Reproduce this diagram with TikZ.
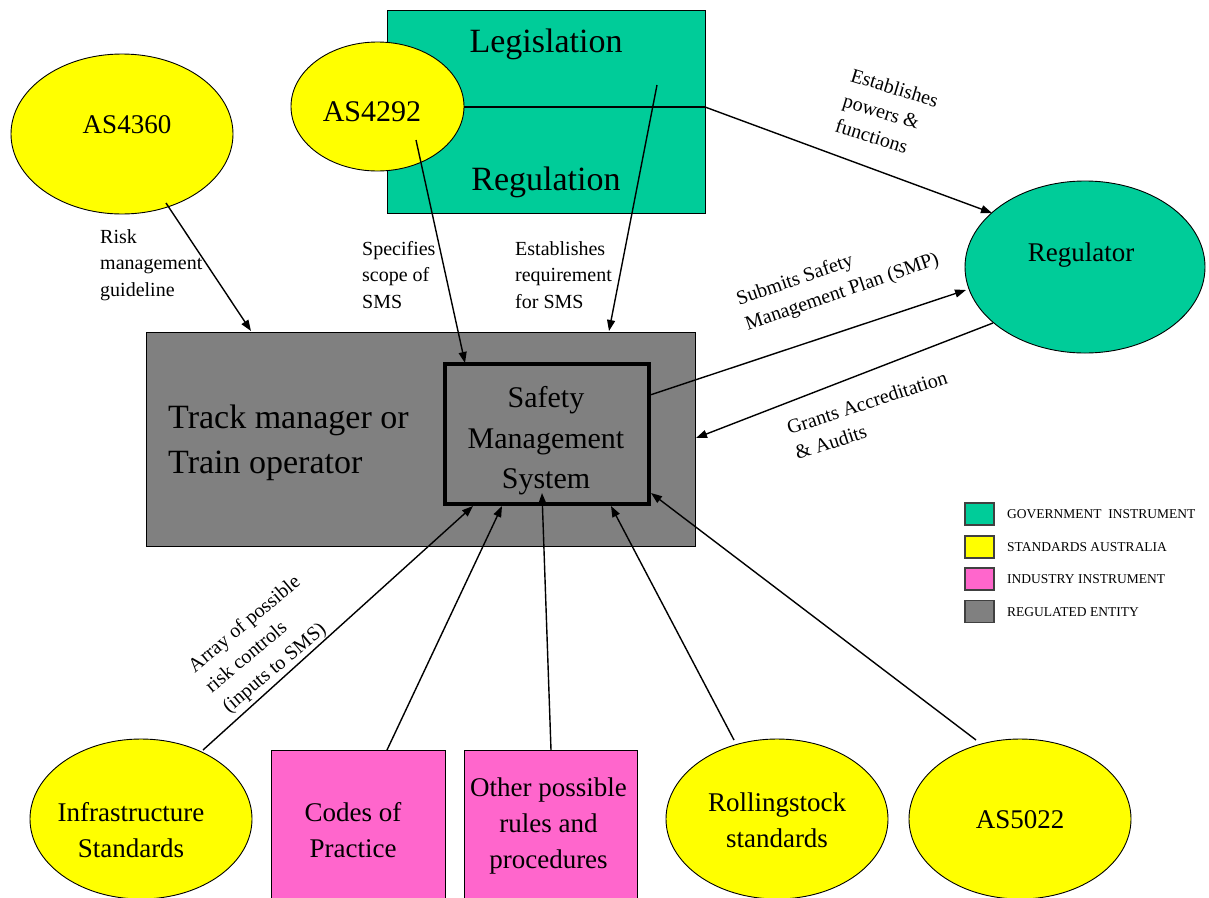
\documentclass[tikz,border=0pt]{standalone}
\usepackage{fontspec}
\setmainfont{Liberation Serif}
\usetikzlibrary{shapes.geometric,arrows.meta}
\definecolor{govgreen}{RGB}{0,204,153}
\definecolor{stdyellow}{RGB}{255,255,0}
\definecolor{indpink}{RGB}{255,102,204}
\definecolor{entgray}{RGB}{128,128,128}
\begin{document}
\begin{tikzpicture}[x=1pt,y=-1pt,
  ell/.style={ellipse,draw=black,line width=0.9pt,inner sep=0pt},
  rbox/.style={rectangle,draw=black,line width=1pt,inner sep=0pt},
  gov/.style={fill=govgreen},
  std/.style={fill=stdyellow},
  ind/.style={fill=indpink},
  ent/.style={fill=entgray},
  big/.style={font=\fontsize{27}{36}\selectfont,align=center,inner sep=0pt},
  lbl/.style={font=\fontsize{20}{26.5}\selectfont,align=left,inner sep=0pt},
  arr/.style={line width=1.4pt,-{Triangle[length=11pt,width=8pt]}},
  legbox/.style={rectangle,draw=black!75,line width=1.5pt,minimum width=29pt,minimum height=22pt,inner sep=0pt},
  legtxt/.style={font=\fontsize{13.5}{16}\selectfont,anchor=west,inner sep=0pt},
]
\useasboundingbox (0,0) rectangle (1209,897);
\fill[white] (0,0) rectangle (1209,897);

% Government instrument box
\node[rbox,gov,minimum width=318pt,minimum height=203pt] (legis) at (546,111.5) {};
\coordinate (divL) at (387,107);
\coordinate (divR) at (705,107);
\draw[line width=1.2pt] (divL) -- (divR);
\node[font=\fontsize{34}{40}\selectfont,inner sep=0pt] (tleg) at (546,44) {Legislation};
\node[font=\fontsize{34}{40}\selectfont,inner sep=0pt] (treg) at (546,182) {Regulation};

% Ellipses top
\node[ell,std,minimum width=173pt,minimum height=129pt] (as4292) at (377.5,106.5) {};
\node[font=\fontsize{30}{36}\selectfont,inner sep=0pt] (t4292) at (372,112) {AS4292};
\node[ell,std,minimum width=222pt,minimum height=160pt] (as4360) at (122,134) {};
\node[big] (t4360) at (127,125) {AS4360};
\node[ell,gov,minimum width=240pt,minimum height=172pt] (reg) at (1085,267) {};
\node[big] (treg2) at (1081,255) {Regulator};

% Regulated entity
\node[rbox,ent,minimum width=549pt,minimum height=214pt] (track) at (420.5,439) {};
\node[font=\fontsize{34}{45}\selectfont,align=left,inner sep=0pt,anchor=west] (ttrack) at (168,443) {Track manager or\\Train operator};
\node[rectangle,draw=black,line width=3.3pt,ent,minimum width=204pt,minimum height=140pt,inner sep=0pt] (sms) at (547,434) {};
\node[font=\fontsize{30}{40.5}\selectfont,align=center,inner sep=0pt] (tsms) at (546,441) {Safety\\Management\\System};

% Bottom row
\node[ell,std,minimum width=222pt,minimum height=160pt] (infra) at (141,819) {};
\node[big] (tinfra) at (131,830) {Infrastructure\\Standards};
\node[rbox,ind,minimum width=174pt,minimum height=155pt] (codes) at (358,827.5) {};
\node[big] (tcodes) at (353,830) {Codes of\\Practice};
\node[rbox,ind,minimum width=173pt,minimum height=155pt] (other) at (550.5,827.5) {};
\node[big] (tother) at (548.5,826) {Other possible\\rules and\\procedures};
\node[ell,std,minimum width=222pt,minimum height=160pt] (roll) at (777,819) {};
\node[big] (troll) at (777,820) {Rollingstock\\standards};
\node[ell,std,minimum width=222pt,minimum height=160pt] (as5022) at (1020,819) {};
\node[big] (t5022) at (1020,820) {AS5022};

% Legend
\node[legbox,gov] (lg1) at (979.5,514) {};
\node[legbox,std] (lg2) at (979.5,547) {};
\node[legbox,ind] (lg3) at (979.5,579) {};
\node[legbox,ent] (lg4) at (979.5,611.5) {};
\node[legtxt] (lt1) at (1007,514) {GOVERNMENT~ INSTRUMENT};
\node[legtxt] (lt2) at (1007,547) {STANDARDS AUSTRALIA};
\node[legtxt] (lt3) at (1007,579) {INDUSTRY INSTRUMENT};
\node[legtxt] (lt4) at (1007,612) {REGULATED ENTITY};

% Labels
\node[lbl,anchor=west] (lrisk) at (100,265) {Risk\\management\\guideline};
\node[lbl,anchor=west] (lspec) at (362,275) {Specifies\\scope of\\SMS};
\node[lbl,anchor=west] (lreq) at (515,275) {Establishes\\requirement\\for SMS};
\node[lbl,rotate=-17] (lpow) at (887,113) {Establishes\\powers \&\\functions};
\node[lbl,rotate=19] (lsmp) at (838,280) {Submits Safety\\Management Plan (SMP)};
\node[lbl,rotate=18] (lgra) at (871,415) {Grants Accreditation\\\& Audits};
\node[lbl,rotate=40] (larr) at (262,645) {Array of possible\\risk controls\\(inputs to SMS)};

% Connector end points
\coordinate (a1s) at (166,203);  \coordinate (a1e) at (251,331);
\coordinate (a2s) at (416,140);  \coordinate (a2e) at (465,363);
\coordinate (a3s) at (657,85);   \coordinate (a3e) at (609,331);
\coordinate (a4e) at (992,213);
\coordinate (a5s) at (650,395);  \coordinate (a5e) at (966,290);
\coordinate (a6s) at (993,323);  \coordinate (a6e) at (696,438);
\coordinate (b1s) at (203,750);  \coordinate (b1e) at (473,506);
\coordinate (b2s) at (387,750);  \coordinate (b2e) at (502,506);
\coordinate (b3s) at (551,750);  \coordinate (b3e) at (542,493);
\coordinate (b4s) at (734,740);  \coordinate (b4e) at (611,506);
\coordinate (b5s) at (976,740);  \coordinate (b5e) at (651,493);

\draw[arr] (a1s) -- (a1e);
\draw[arr] (a2s) -- (a2e);
\draw[arr] (a3s) -- (a3e);
\draw[arr] (divR) -- (a4e);
\draw[arr] (a5s) -- (a5e);
\draw[arr] (a6s) -- (a6e);
\draw[arr] (b1s) -- (b1e);
\draw[arr] (b2s) -- (b2e);
\draw[arr] (b3s) -- (b3e);
\draw[arr] (b4s) -- (b4e);
\draw[arr] (b5s) -- (b5e);
\end{tikzpicture}
\end{document}
